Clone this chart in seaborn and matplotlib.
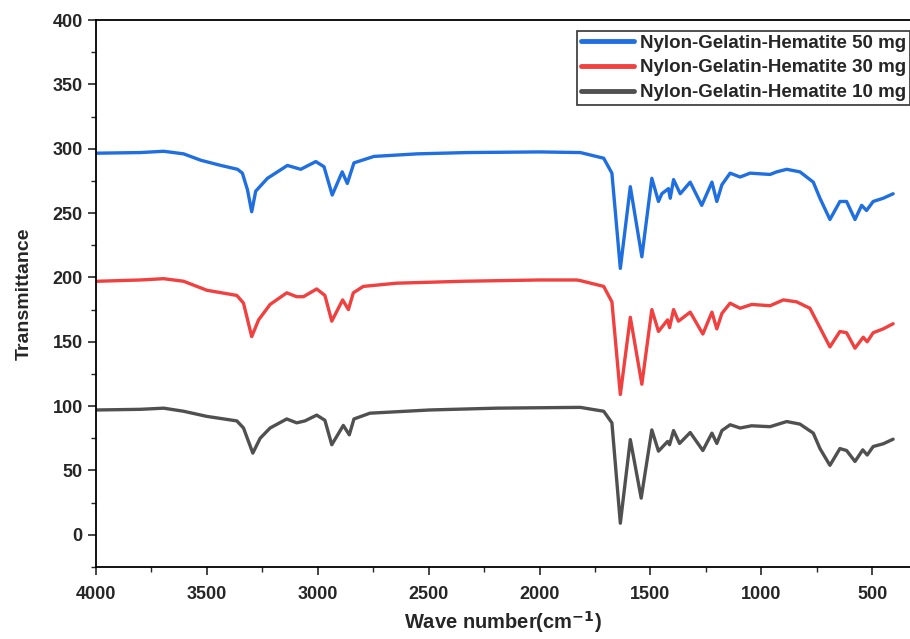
#FTIR spectra of the nylon-gelatin-hematite samples, stacked with offsets

import numpy as np
import pandas as pd
import seaborn as sns
import matplotlib.pyplot as plt
from matplotlib.ticker import MultipleLocator

#wave numbers and transmittance
wn_50 = [4000, 3800, 3695, 3605, 3527, 3437, 3362, 3340, 3317, 3298, 3280, 3227, 3137, 3077,
         3009, 2972, 2935, 2890, 2867, 2837, 2747, 2552, 2327, 2000, 1816, 1711, 1674, 1636,
         1591, 1539, 1494, 1464, 1449, 1419, 1411, 1396, 1366, 1321, 1269, 1223, 1201, 1178,
         1141, 1096, 1051, 961, 931, 886, 826, 766, 736, 691, 646, 616, 578, 548, 526, 496,
         451, 406]
t_50 = [296.5, 297, 298, 296, 291, 287, 284, 281, 268, 251, 267, 277, 287, 284,
        290, 286, 264, 282, 273, 289, 294, 296, 297, 297.5, 297, 292.6, 281, 207,
        270.5, 216, 277, 259, 265, 269, 261.5, 276, 265, 274, 256, 274, 259, 272,
        281, 278, 281, 280, 282, 284, 282, 274, 261.5, 245, 259, 259, 245, 256, 252, 259,
        261.5, 265]

wn_30 = [3995, 3800, 3695, 3605, 3500, 3365, 3335, 3298, 3267, 3215, 3140, 3095, 3065, 3005,
         2968, 2937, 2888, 2862, 2840, 2795, 2645, 2345, 2000, 1834, 1816, 1711, 1674, 1636,
         1591, 1539, 1494, 1464, 1423, 1414, 1396, 1374, 1321, 1264, 1223, 1201, 1178, 1141,
         1096, 1044, 961, 901, 841, 781, 736, 691, 646, 616, 578, 541, 523, 496, 451, 406]
t_30 = [197, 198, 199, 197, 190, 186, 180, 154, 167, 179, 188, 185, 185, 191,
        186, 166, 182.5, 175, 188, 193, 195.5, 197, 198, 198, 197.5, 193, 181, 109,
        169, 117, 175, 158, 167, 161, 175, 166, 173, 156, 173, 160, 172, 180,
        176, 179, 178, 182.5, 181, 176, 161, 146, 158, 157, 145, 153.5, 150, 157, 160, 164]

wn_10 = [3995, 3800, 3695, 3605, 3500, 3365, 3335, 3293, 3260, 3215, 3140, 3095, 3058, 3005,
         2968, 2937, 2885, 2858, 2837, 2765, 2495, 2195, 1834, 1816, 1711, 1674, 1636, 1591,
         1542, 1494, 1464, 1423, 1414, 1396, 1369, 1321, 1264, 1223, 1201, 1178, 1141, 1096,
         1044, 961, 886, 826, 766, 736, 691, 646, 616, 578, 543, 523, 496, 451, 406]
t_10 = [97, 97.5, 98.4, 96, 92, 88.5, 83, 63.5, 75, 83, 90, 87, 88.5, 93,
        89, 70, 85, 77.7, 90, 94.5, 97, 98.4, 99, 99, 96, 87, 9, 74,
        28.5, 81.5, 65, 72.5, 70, 81, 71, 79.5, 65.5, 79, 71, 81, 85.5, 83,
        84.7, 84, 88, 86, 79, 67, 54, 67, 65.5, 57, 66, 62, 68.6, 70.7, 74.3]

labels = ['Nylon-Gelatin-Hematite 50 mg', 'Nylon-Gelatin-Hematite 30 mg',
          'Nylon-Gelatin-Hematite 10 mg']
colors = ['#1f6fe0', '#f04040', '#505050']

#long form table for seaborn
df = pd.concat([
    pd.DataFrame({'wn': wn_50, 't': t_50, 'sample': labels[0]}),
    pd.DataFrame({'wn': wn_30, 't': t_30, 'sample': labels[1]}),
    pd.DataFrame({'wn': wn_10, 't': t_10, 'sample': labels[2]}),
], ignore_index=True)

sns.set_style('ticks')
plt.rcParams['font.family'] = ['Liberation Sans', 'DejaVu Sans']
plt.rcParams['font.weight'] = 'bold'
plt.rcParams['mathtext.default'] = 'bf'

fig = plt.figure(figsize=(9.1, 6.39), dpi=100)
ax = fig.add_axes([0.1055, 0.1127, 0.8945, 0.856])

sns.lineplot(data=df, x='wn', y='t', hue='sample', palette=dict(zip(labels, colors)),
             estimator=None, sort=False, linewidth=2.4, ax=ax)

ax.set_xlim(4000, 330)
ax.set_ylim(-25, 400)
ax.xaxis.set_major_locator(MultipleLocator(500))
ax.xaxis.set_minor_locator(MultipleLocator(250))
ax.yaxis.set_major_locator(MultipleLocator(50))
ax.yaxis.set_minor_locator(MultipleLocator(25))
ax.tick_params(which='major', length=6, width=1.2, labelsize=13, direction='out')
ax.tick_params(which='minor', length=3.5, width=1.0, direction='out')
ax.tick_params(axis='x', pad=8)
for lab in ax.get_xticklabels() + ax.get_yticklabels():
    lab.set_fontweight('bold')

for s in ['left', 'bottom', 'top']:
    ax.spines[s].set_linewidth(1.3)
    ax.spines[s].set_color('black')
ax.spines['right'].set_visible(False)

ax.set_xlabel('Wave number(cm$^{-1}$)', fontsize=14.5, fontweight='bold', labelpad=4)
ax.set_ylabel('Transmittance', fontsize=14, fontweight='bold', labelpad=14)

leg = ax.legend(loc='upper right', bbox_to_anchor=(1.0, 0.98), fontsize=13.5,
                frameon=True, fancybox=False, handlelength=2.8, handletextpad=0.35,
                borderpad=0.2, labelspacing=0.4, borderaxespad=0)
leg.get_frame().set_edgecolor('black')
leg.get_frame().set_linewidth(1.2)
for line in leg.get_lines():
    line.set_linewidth(3.5)
for t in leg.get_texts():
    t.set_fontweight('bold')

fig.savefig('out.png', dpi=100)
